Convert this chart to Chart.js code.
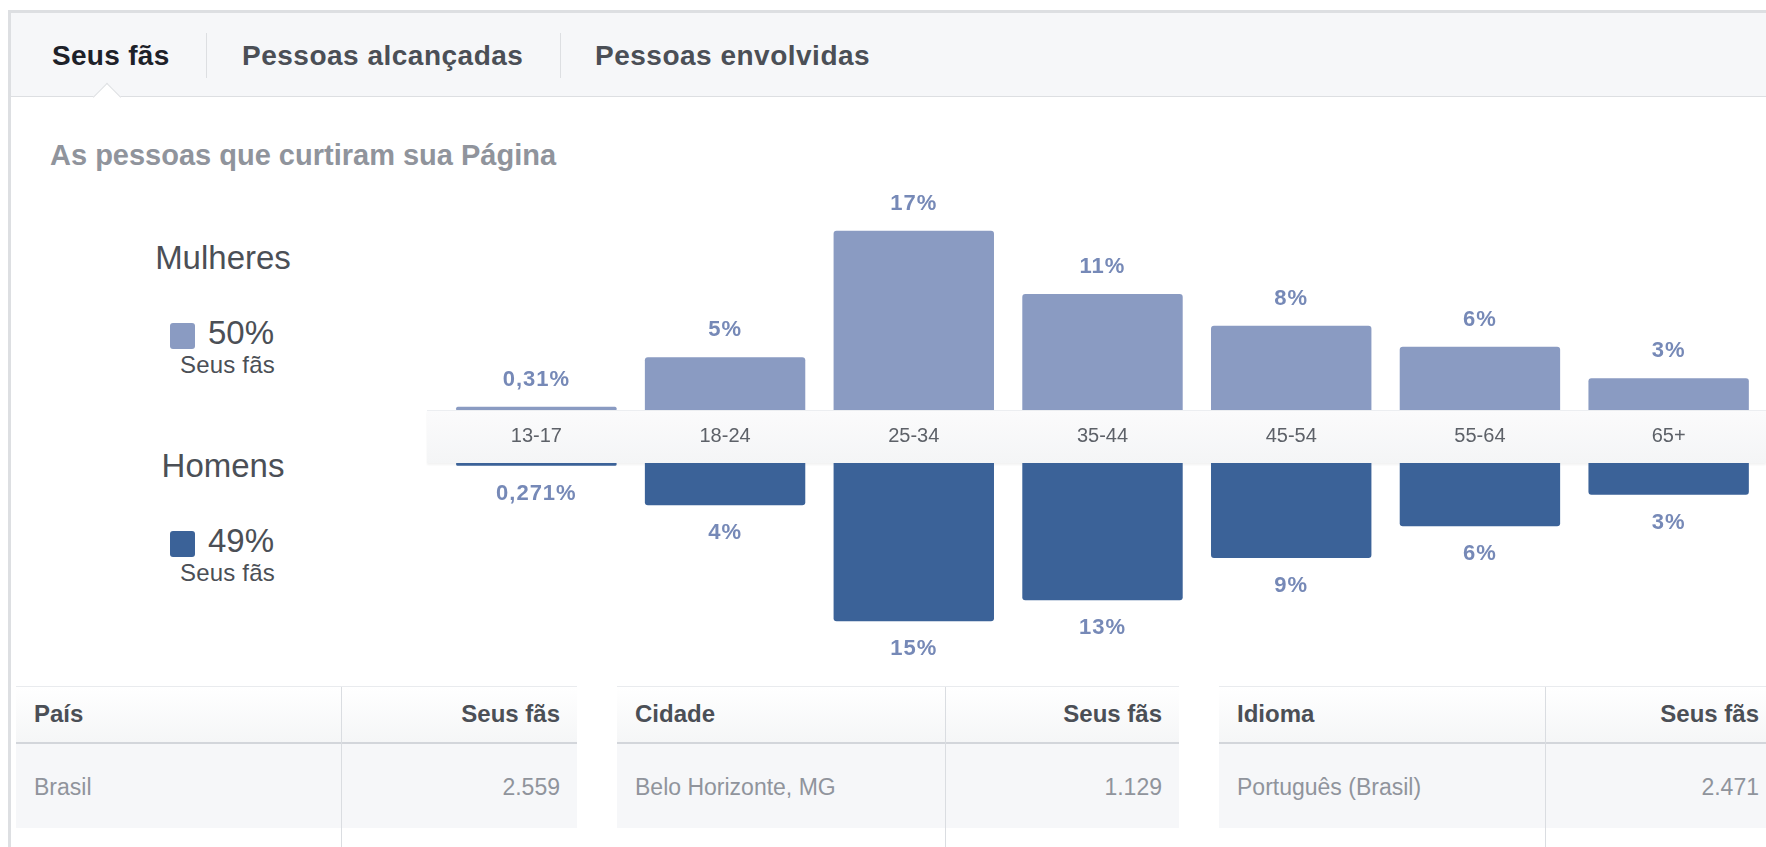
<!DOCTYPE html>
<html lang="pt-BR">
<head>
<meta charset="utf-8">
<title>Seus fãs</title>
<script src="https://cdn.jsdelivr.net/npm/chart.js@4.4.0/dist/chart.umd.min.js"></script>
<style>
    html, body {
        margin: 0;
        padding: 0;
        background: #fff;
        width: 1766px;
        height: 847px;
        overflow: hidden;
        font-family: "Liberation Sans", Arial, Helvetica, sans-serif;
    }
    .panel {
        position: absolute;
        left: 8px;
        top: 10px;
        width: 1800px;
        height: 900px;
        border: 3px solid #dddfe2;
        background: #fff;
    }
    .tabs {
        position: absolute;
        left: 11px;
        top: 13px;
        width: 1760px;
        height: 83px;
        background: #f6f7f9;
        border-bottom: 1px solid #dddfe2;
    }
    .tab {
        position: absolute;
        top: 27px;
        font-size: 28px;
        font-weight: bold;
        letter-spacing: 0.5px;
        color: #4b4f56;
        white-space: nowrap;
        line-height: 32px;
    }
    .tab.active { color: #1d2129; letter-spacing: 0.3px; }
    .tab-sep {
        position: absolute;
        top: 20px;
        width: 1px;
        height: 45px;
        background: #dddfe2;
    }
    .notch {
        position: absolute;
        left: 97px;
        top: 87px;
        width: 19px;
        height: 19px;
        background: #fff;
        border-left: 1px solid #dddfe2;
        border-top: 1px solid #dddfe2;
        transform: rotate(45deg);
    }
    .subtitle {
        position: absolute;
        left: 50px;
        top: 138px;
        font-size: 29px;
        font-weight: bold;
        color: #90949c;
        white-space: nowrap;
        line-height: 34px;
    }
    .gender {
        position: absolute;
        width: 220px;
        left: 113px;
        text-align: center;
        font-size: 33px;
        color: #4b4f56;
        line-height: 36px;
    }
    .share {
        position: absolute;
        left: 208px;
        font-size: 33px;
        color: #4b4f56;
        line-height: 36px;
    }
    .share-sub {
        position: absolute;
        left: 180px;
        font-size: 24px;
        letter-spacing: 0.2px;
        color: #4b4f56;
        line-height: 24px;
    }
    .swatch {
        position: absolute;
        left: 170px;
        width: 25px;
        height: 26px;
        border-radius: 3px;
    }
    .band {
        position: absolute;
        left: 427px;
        top: 410px;
        width: 1339px;
        height: 53px;
        background: linear-gradient(#fbfbfc, #f4f5f6);
        border-top: 1px solid #eceef1;
        box-shadow: 0 2px 2px rgba(0, 0, 0, 0.05);
        box-sizing: border-box;
    }
    canvas { position: absolute; }
    .tbl {
        position: absolute;
        top: 686px;
        height: 170px;
    }
    .tbl .head {
        position: absolute;
        left: 0;
        top: 0;
        right: 0;
        height: 55px;
        background: linear-gradient(#ffffff, #f5f6f7);
        border-top: 1px solid #e9ebee;
        border-bottom: 2px solid #d3d6db;
    }
    .tbl .row {
        position: absolute;
        left: 0;
        right: 0;
        top: 58px;
        height: 84px;
        background: #f6f7f9;
    }
    .tbl .col-line {
        position: absolute;
        top: 1px;
        width: 1px;
        height: 170px;
        background: #dadde1;
    }
    .tbl .h {
        position: absolute;
        top: 14px;
        font-size: 24px;
        font-weight: bold;
        color: #4b4f56;
        line-height: 28px;
        white-space: nowrap;
    }
    .tbl .c {
        position: absolute;
        top: 87px;
        font-size: 23px;
        color: #90949c;
        line-height: 28px;
        white-space: nowrap;
    }
</style>
</head>
<body>
<div class="panel"></div>
<div class="tabs">
    <div class="tab active" style="left:41px">Seus fãs</div>
    <div class="tab-sep" style="left:195px"></div>
    <div class="tab" style="left:231px">Pessoas alcançadas</div>
    <div class="tab-sep" style="left:549px"></div>
    <div class="tab" style="left:584px">Pessoas envolvidas</div>
</div>
<div class="notch"></div>

<div class="subtitle">As pessoas que curtiram sua Página</div>

<div id="legend"></div>

<div class="band"></div>
<canvas id="womenChart" width="1321" height="314" style="left:442px; top:149px;"></canvas>
<canvas id="menChart" width="1321" height="209" style="left:442px; top:463px;"></canvas>

<div id="tables"></div>

<script>
// Age groups and share of fans (%) per gender
const ageGroups = ['13-17', '18-24', '25-34', '35-44', '45-54', '55-64', '65+'];
const womenPct = [0.31, 5, 17, 11, 8, 6, 3];
const menPct = [0.271, 4, 15, 13, 9, 6, 3];

// Gender totals
const genderNames = ['Mulheres', 'Homens'];
const genderTotals = [50, 49];
const genderColors = ['#8a9bc2', '#3b6298'];

// Top locations / language tables
const tableHeads = ['País', 'Cidade', 'Idioma'];
const tableFirstRow = ['Brasil', 'Belo Horizonte, MG', 'Português (Brasil)'];
const tableFirstCount = [2559, 1129, 2471];

const pctMax = { women: 24.75, men: 19.8 };

function formatPct(v) {
    return String(v).replace('.', ',') + '%';
}

// Draws the percentage over (or under) every bar
const barValues = {
    id: 'barValues',
    afterDatasetsDraw(chart, args, opts) {
        const ctx = chart.ctx;
        const meta = chart.getDatasetMeta(0);
        const values = chart.data.datasets[0].data;
        ctx.save();
        ctx.font = 'bold 22px "Liberation Sans", Arial, sans-serif';
        ctx.letterSpacing = '1px';
        ctx.fillStyle = opts.color;
        ctx.textAlign = 'center';
        ctx.textBaseline = 'middle';
        meta.data.forEach((bar, i) => {
            ctx.fillText(formatPct(values[i]), bar.x, bar.y + opts.offset);
        });
        ctx.restore();
    }
};

class FanDemographics {
    constructor() {
        this.init();
    }

    init() {
        this.renderLegend();
        this.renderWomen();
        this.renderMen();
        this.renderTables();
    }

    renderLegend() {
        const legend = document.getElementById('legend');
        legend.innerHTML = genderNames.map((name, i) => {
            const top = 240 + i * 208;
            return `
                <div class="gender" style="top:${top}px">${name}</div>
                <div class="swatch" style="top:${top + 83}px; background:${genderColors[i]}"></div>
                <div class="share" style="top:${top + 75}px">${genderTotals[i]}%</div>
                <div class="share-sub" style="top:${top + 113}px">Seus fãs</div>
            `;
        }).join('');
    }

    baseOptions(yScale, labelColor, labelOffset) {
        return {
            responsive: false,
            animation: false,
            events: [],
            layout: { padding: 0 },
            plugins: {
                legend: { display: false },
                tooltip: { enabled: false },
                barValues: { color: labelColor, offset: labelOffset }
            },
            scales: {
                x: {
                    display: false,
                    grid: { display: false, drawTicks: false },
                    border: { display: false }
                },
                y: yScale
            }
        };
    }

    renderWomen() {
        const options = this.baseOptions(
            { display: false, min: 0, max: pctMax.women },
            '#7689b7', -27
        );
        // age labels sit in the grey band under the women's bars
        options.scales.x = {
            display: true,
            grid: { display: false, drawTicks: false },
            border: { display: false },
            ticks: {
                color: '#5d6168',
                font: { size: 20, family: '"Liberation Sans", Arial, sans-serif' },
                padding: 14
            },
            afterFit: (scale) => { scale.height = 53; }
        };
        new Chart(document.getElementById('womenChart'), {
            type: 'bar',
            data: {
                labels: ageGroups,
                datasets: [{
                    data: womenPct,
                    backgroundColor: genderColors[0],
                    borderRadius: 3,
                    borderSkipped: 'start',
                    barPercentage: 0.85,
                    categoryPercentage: 1
                }]
            },
            options: options,
            plugins: [barValues]
        });
    }

    renderMen() {
        const options = this.baseOptions(
            { display: false, min: 0, max: pctMax.men, reverse: true },
            '#7689b7', 28
        );
        new Chart(document.getElementById('menChart'), {
            type: 'bar',
            data: {
                labels: ageGroups,
                datasets: [{
                    data: menPct,
                    backgroundColor: genderColors[1],
                    borderRadius: 3,
                    borderSkipped: 'start',
                    barPercentage: 0.85,
                    categoryPercentage: 1
                }]
            },
            options: options,
            plugins: [barValues]
        });
    }

    renderTables() {
        const lefts = [16, 617, 1219];
        const widths = [561, 562, 600];
        const splits = [325, 328, 326];
        const box = document.getElementById('tables');
        box.innerHTML = tableHeads.map((head, i) => `
            <div class="tbl" style="left:${lefts[i]}px; width:${widths[i]}px">
                <div class="head"></div>
                <div class="row"></div>
                <div class="col-line" style="left:${splits[i]}px"></div>
                <div class="h" style="left:18px">${head}</div>
                <div class="h" style="left:${splits[i]}px; width:${i === 2 ? 214 : widths[i] - splits[i] - 17}px; text-align:right">Seus fãs</div>
                <div class="c" style="left:18px">${tableFirstRow[i]}</div>
                <div class="c" style="left:${splits[i]}px; width:${i === 2 ? 214 : widths[i] - splits[i] - 17}px; text-align:right">${tableFirstCount[i].toLocaleString('pt-BR')}</div>
            </div>
        `).join('');
    }
}

document.addEventListener('DOMContentLoaded', () => {
    new FanDemographics();
});
</script>
</body>
</html>
